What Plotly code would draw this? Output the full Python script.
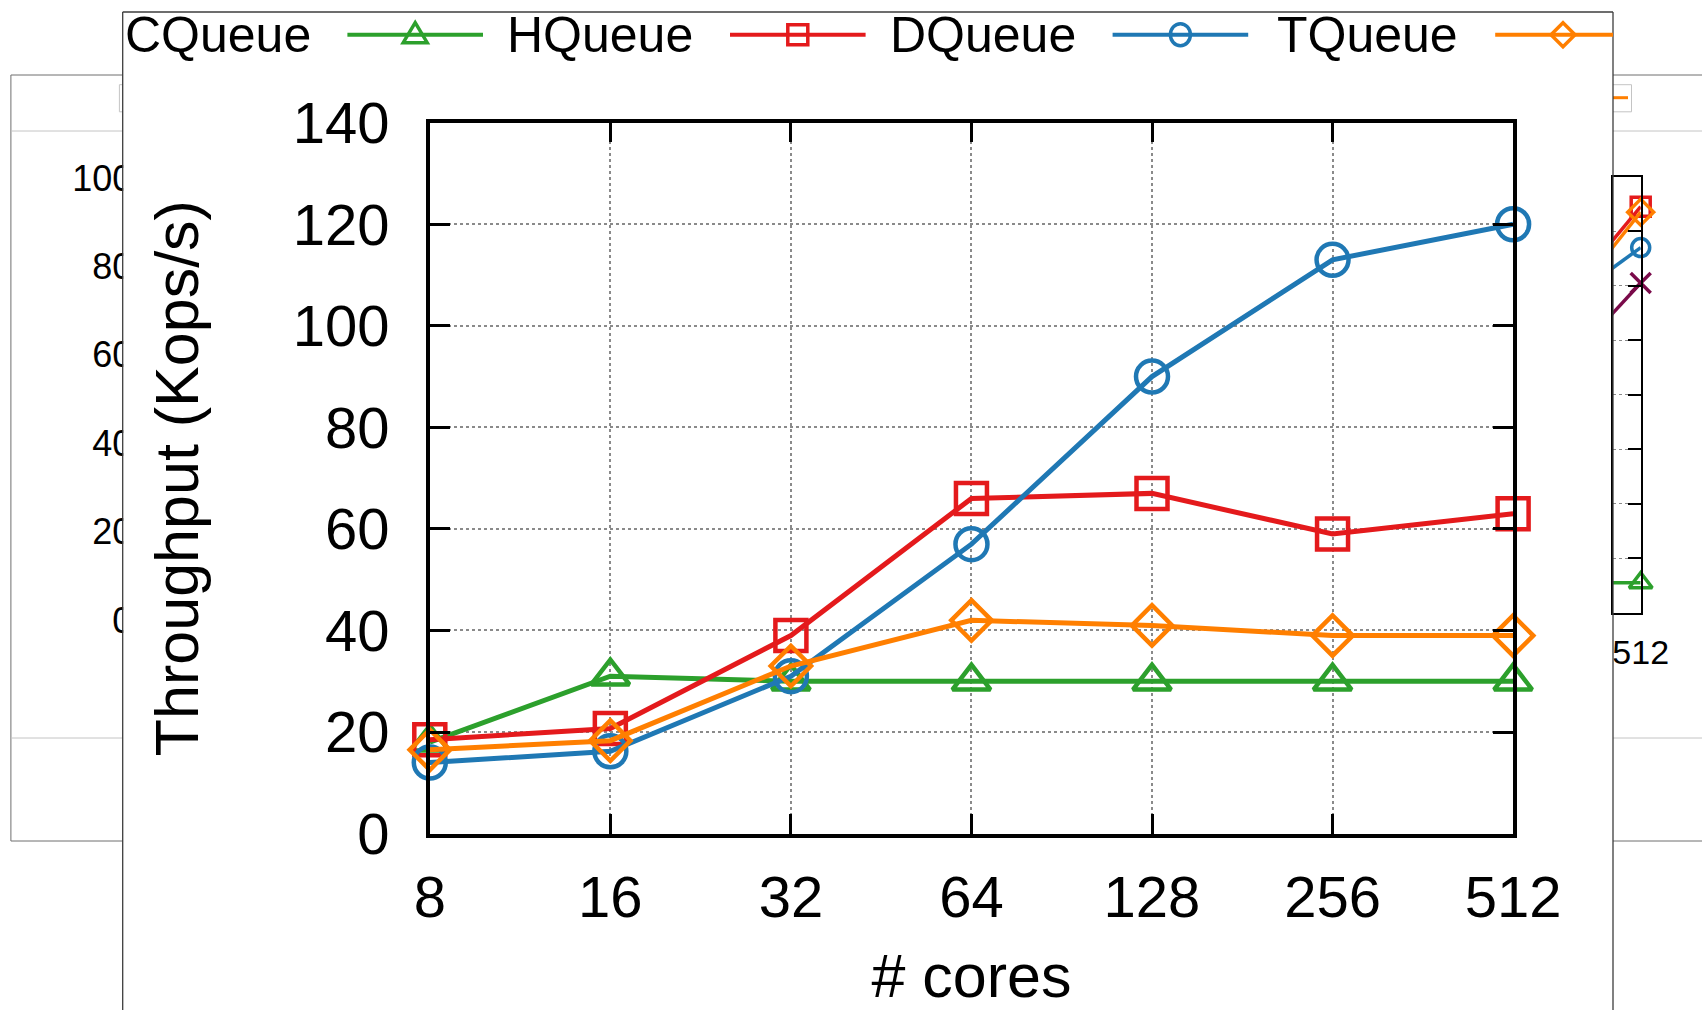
import math
import plotly.graph_objects as go

# ---------------- data ----------------
cores = [8, 16, 32, 64, 128, 256, 512]
core_labels = ["8", "16", "32", "64", "128", "256", "512"]
y_ticks = [0, 20, 40, 60, 80, 100, 120, 140]

cqueue = [18, 31, 30, 30, 30, 30, 30]
hqueue = [18.5, 20.7, 39, 66, 67, 59, 63]
dqueue = [14, 16.2, 31, 57, 90, 113, 120]
tqueue = [16.5, 18.3, 33, 42, 41, 39, 39]

series_names = ["CQueue", "HQueue", "DQueue", "TQueue"]

# background figure peeking out on the right (only its last segment is visible)
bg_cores = [256, 512]
bg_red = [44, 74.5]
bg_orange = [41.5, 73.5]
bg_blue = [48.5, 67]
bg_purple = [33, 60.5]
bg_green = [5.5, 5.5]
bg_left_ticks = [0, 20, 40, 60, 80, 100]

# ---------------- helpers ----------------
W, H = 1702, 1010
EPS = 1e-6


def X(px):
    return px / W


def Y(py):
    return 1 - py / H


FONT = "Liberation Sans, Arial, Helvetica, sans-serif"
GREEN = "#2ca02c"
RED = "#e41a1c"
BLUE = "#1f78b4"
ORANGE = "#ff7f00"
PURPLE = "#7a0a4a"

fig = go.Figure()

# ---------------- main chart ----------------
styles = [
    (cqueue, GREEN, "triangle-up-open", 33),
    (hqueue, RED, "square-open", 31),
    (dqueue, BLUE, "circle-open", 32),
    (tqueue, ORANGE, "diamond-open", 31),
]
for name, (vals, color, sym, size) in zip(series_names, styles):
    fig.add_trace(go.Scatter(
        x=cores, y=vals, name=name, mode="lines+markers",
        line=dict(color=color, width=5),
        marker=dict(symbol=sym, size=size, color=color,
                    line=dict(color=color, width=4.5)),
        cliponaxis=False, showlegend=False, xaxis="x", yaxis="y",
    ))

# ---------------- background chart (clipped right part) ----------------
bg_styles = [
    ("bg series 5", bg_purple, PURPLE, "x-thin-open", 20),
    ("bg series 1", bg_green, GREEN, "triangle-up-open", 20),
    ("bg series 3", bg_blue, BLUE, "circle-open", 18),
    ("bg series 2", bg_red, RED, "square-open", 19),
    ("bg series 4", bg_orange, ORANGE, "diamond-open", 20),
]
for name, vals, color, sym, size in bg_styles:
    fig.add_trace(go.Scatter(
        x=bg_cores, y=vals, name=name, mode="lines",
        line=dict(color=color, width=3.5), showlegend=False,
        xaxis="x2", yaxis="y2", hoverinfo="skip",
    ))
    fig.add_trace(go.Scatter(
        x=bg_cores[-1:], y=vals[-1:], name=name, mode="markers",
        marker=dict(symbol=sym, size=size, color=color,
                    line=dict(color=color, width=3.5)),
        cliponaxis=False, showlegend=False,
        xaxis="x2", yaxis="y2", hoverinfo="skip",
    ))

# carrier for the background chart's left tick labels
fig.add_trace(go.Scatter(x=[None], y=[None], xaxis="x3", yaxis="y3",
                         showlegend=False, hoverinfo="skip"))

# ---------------- shapes ----------------
shapes = []
GRAY_D = "#6e6e6e"
GRAY_L = "#c4c4c4"


def hline(x0, x1, y, color, width=1, layer="below"):
    shapes.append(dict(type="line", xref="paper", yref="paper",
                       x0=X(x0), x1=X(x1), y0=Y(y), y1=Y(y),
                       line=dict(color=color, width=width), layer=layer))


def vline(x, y0, y1, color, width=1, layer="below"):
    shapes.append(dict(type="line", xref="paper", yref="paper",
                       x0=X(x), x1=X(x), y0=Y(y0), y1=Y(y1),
                       line=dict(color=color, width=width), layer=layer))


PANEL_L, PANEL_R, PANEL_T = 122.7, 1613, 12

# background window frame (left and right remnants)
vline(10.9, 75, 841, GRAY_D)
for (a, b) in [(10.9, PANEL_L), (PANEL_R, W)]:
    hline(a, b, 75, GRAY_D)
    hline(a, b, 131, GRAY_L)
    hline(a, b, 738, GRAY_L)
    hline(a, b, 841, GRAY_D)
# background legend box remnants
hline(119.4, PANEL_L, 84.7, GRAY_L)
hline(119.4, PANEL_L, 111.8, GRAY_L)
vline(119.4, 84.7, 111.8, GRAY_L)
hline(PANEL_R, 1631.5, 84.7, GRAY_L)
hline(PANEL_R, 1631.5, 111.8, GRAY_L)
vline(1631.5, 84.7, 111.8, GRAY_L)
hline(PANEL_R, 1628, 97.7, ORANGE, width=3)

# white strip: the foreground panel hiding the background tick labels
shapes.append(dict(type="rect", xref="paper", yref="paper",
                   x0=X(PANEL_L + 0.5), x1=X(152), y0=Y(680), y1=Y(140),
                   fillcolor="white", line=dict(width=0), layer="above"))
# foreground panel border
vline(PANEL_L, PANEL_T, H, "#3c3c3c", 1.3, "above")
vline(PANEL_R, PANEL_T, H, "#3c3c3c", 1.3, "above")
hline(PANEL_L, PANEL_R, PANEL_T, "#3c3c3c", 1.3, "above")

# ---------------- manual legend (text, then sample) ----------------
annotations = []
leg_y = 34.7
leg_colors = [GREEN, RED, BLUE, ORANGE]
leg_syms = ["triangle", "square", "circle", "diamond"]
for i, (name, color, sym) in enumerate(zip(series_names, leg_colors, leg_syms)):
    r = 312.6 + i * 382.6
    annotations.append(dict(xref="paper", yref="paper", x=X(r), y=Y(leg_y),
                            xanchor="right", yanchor="middle", showarrow=False,
                            text=name, font=dict(family=FONT, size=50, color="black")))
    lx0 = r + 34.8
    lx1 = min(r + 170.4, PANEL_R)
    hline(lx0, lx1, leg_y, color, 4, "above")
    cx = r + 102.6
    common = dict(xref="paper", yref="paper", xsizemode="pixel", ysizemode="pixel",
                  xanchor=X(cx), yanchor=Y(leg_y), line=dict(color=color, width=3.5),
                  fillcolor="rgba(0,0,0,0)", layer="above")
    if sym == "triangle":
        shapes.append(dict(type="path", path="M -12,-8 L 12,-8 L 0,12 Z", **common))
    elif sym == "square":
        shapes.append(dict(type="rect", x0=-10, x1=10, y0=-10, y1=10, **common))
    elif sym == "circle":
        shapes.append(dict(type="circle", x0=-10, x1=10, y0=-11, y1=11, **common))
    else:
        shapes.append(dict(type="path", path="M 0,12 L 12,0 L 0,-12 L -12,0 Z", **common))

# ---------------- layout ----------------
fig.update_layout(
    width=W, height=H, autosize=False,
    margin=dict(l=0, r=0, t=0, b=0, pad=0),
    paper_bgcolor="white", plot_bgcolor="white",
    showlegend=False,
    font=dict(family=FONT, color="black"),
    shapes=shapes, annotations=annotations,
    xaxis=dict(
        domain=[X(429.8), X(1513.1)], anchor="y", type="log", automargin=False,
        range=[math.log10(cores[0]) - EPS, math.log10(cores[-1]) + EPS],
        tickvals=cores, ticktext=core_labels,
        ticks="inside", ticklen=20, tickwidth=3, tickcolor="black",
        showline=True, linewidth=3.5, linecolor="black", mirror="ticks",
        showgrid=True, gridcolor="#8a8a8a", griddash="dot", gridwidth=1.5,
        zeroline=False, tickfont=dict(size=58, family=FONT, color="black"),
        ticklabelstandoff=10,
        title=dict(text="# cores", font=dict(size=61, family=FONT, color="black"), standoff=58),
    ),
    yaxis=dict(
        domain=[Y(833.6), Y(122.7)], anchor="x", automargin=False,
        range=[0, 140], tickvals=y_ticks, ticktext=[str(v) for v in y_ticks],
        ticks="inside", ticklen=20, tickwidth=3, tickcolor="black",
        showline=True, linewidth=3.5, linecolor="black", mirror="ticks",
        showgrid=True, gridcolor="#8a8a8a", griddash="dot", gridwidth=1.5,
        zeroline=False, tickfont=dict(size=58, family=FONT, color="black"),
        ticklabelstandoff=25,
        title=dict(text="Throughput (Kops/s)", font=dict(size=61, family=FONT, color="black"), standoff=75),
    ),
    xaxis2=dict(
        domain=[X(PANEL_R), X(1640.7)], anchor="y2", type="log", automargin=False,
        range=[math.log10(bg_cores[-1]) - 0.2 * math.log10(2), math.log10(bg_cores[-1]) + EPS],
        tickvals=bg_cores[-1:], ticktext=[str(bg_cores[-1])],
        ticks="", showline=True, linewidth=1.5, linecolor="black", mirror=True,
        showgrid=False, zeroline=False,
        tickfont=dict(size=34, family=FONT, color="black"), ticklabelstandoff=9,
    ),
    yaxis2=dict(
        domain=[Y(612.7), Y(176.7)], anchor="x2", side="right", automargin=False,
        range=[0, 80], dtick=10, ticks="inside", ticklen=13, tickwidth=1.5,
        tickcolor="black", showticklabels=False,
        showline=True, linewidth=1.5, linecolor="black", mirror=True,
        showgrid=True, gridcolor="#8a8a8a", griddash="dot", gridwidth=1,
        zeroline=False,
    ),
    xaxis3=dict(domain=[X(133.3), X(136)], anchor="y3", visible=False,
                range=[0, 1], automargin=False),
    yaxis3=dict(
        domain=[Y(620), Y(178)], anchor="x3", side="left", automargin=False,
        range=[0, 100], tickvals=bg_left_ticks, ticktext=[str(v) for v in bg_left_ticks],
        ticks="", showline=False, showgrid=False, zeroline=False,
        tickfont=dict(size=36, family=FONT, color="black"), ticklabelstandoff=0,
    ),
)

fig.write_html("out.html", config={"displayModeBar": False},
               post_script="document.body.style.margin='0px';")
